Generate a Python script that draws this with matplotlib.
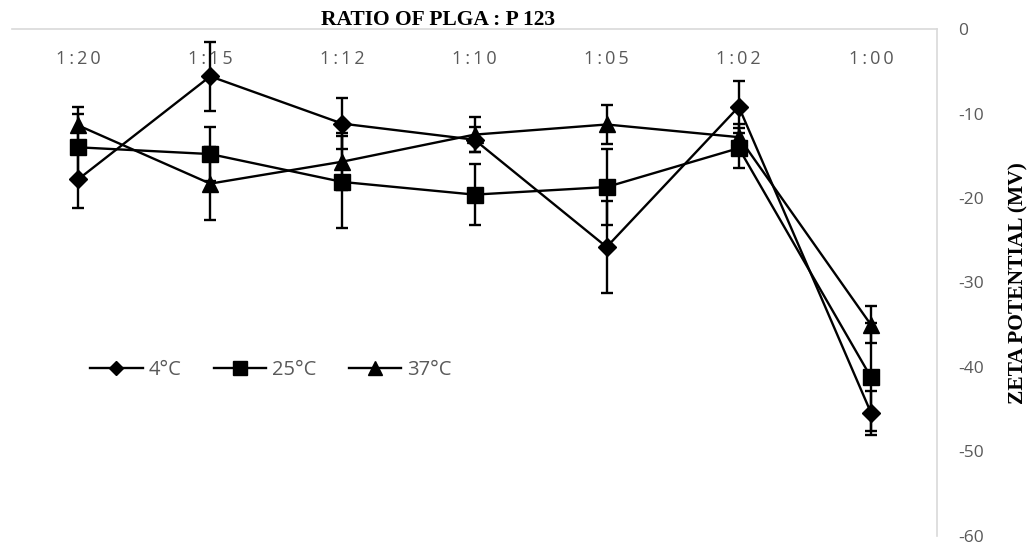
import numpy as np
import matplotlib
matplotlib.use("Agg")
import matplotlib.pyplot as plt
from matplotlib.lines import Line2D

# ratio of PLGA : P123 and zeta potential (mV) at three temperatures
ratios = ["1:20", "1:15", "1:12", "1:10", "1:05", "1:02", "1:00"]
zeta_4 = [-17.8, -5.6, -11.2, -13.1, -25.8, -9.2, -45.4]
err_4 = [3.4, 4.1, 3.0, 1.5, 5.4, 3.1, 2.6]
zeta_25 = [-14.0, -14.8, -18.1, -19.6, -18.7, -14.1, -41.2]
err_25 = [4.0, 3.2, 5.4, 3.6, 4.5, 2.4, 6.4]
zeta_37 = [-11.4, -18.3, -15.7, -12.5, -11.3, -12.8, -35.0]
err_37 = [2.2, 4.3, 3.4, 2.1, 2.3, 1.5, 2.2]

series = [
    ("4°C", zeta_4, err_4, "D", 9.5),
    ("25°C", zeta_25, err_25, "s", 12),
    ("37°C", zeta_37, err_37, "^", 12),
]

plt.rcParams["axes.unicode_minus"] = False
grey = "#595959"
sans = ["Open Sans", "DejaVu Sans"]
x = np.arange(len(ratios))

fig = plt.figure(figsize=(10.3, 5.44), dpi=100)
ax = fig.add_axes([12 / 1030, 1 - 536 / 544, 925 / 1030, 507 / 544])

handles = []
for name, vals, errs, mk, ms in series:
    ax.errorbar(x, vals, yerr=errs, color="black", lw=1.7, marker=mk, ms=ms,
                capsize=4.3, capthick=1.7, elinewidth=1.7)
    handles.append(Line2D([], [], color="black", lw=1.7, marker=mk,
                          ms=ms * 0.8, label=name))

ax.set_xlim(-0.5, len(ratios) - 0.5)
ax.set_ylim(-60, 0)
ax.set_yticks(np.arange(-60, 1, 10))

# category axis sits along the top, labels hang just under it (letter-spaced)
ax.set_xticks(x)
ax.set_xticklabels(["\u2009".join(r) for r in ratios])
ax.xaxis.tick_top()
ax.tick_params(axis="x", length=0, pad=-28, labelsize=13, labelcolor=grey)
for lbl in ax.get_xticklabels():
    lbl.set_fontfamily(sans)

ax.yaxis.tick_right()
ax.tick_params(axis="y", length=0, pad=15, labelsize=12.5, labelcolor=grey)
for lbl in ax.get_yticklabels():
    lbl.set_fontfamily(sans)

for side in ["left", "bottom"]:
    ax.spines[side].set_visible(False)
for side in ["top", "right"]:
    ax.spines[side].set_color("#d9d9d9")
    ax.spines[side].set_linewidth(1.2)

leg = ax.legend(handles=handles, loc="center", bbox_to_anchor=(0.28, 0.327),
                ncol=3, frameon=False, handlelength=2.6, columnspacing=1.6,
                handletextpad=0.3, prop={"family": sans, "size": 14.5})
for t in leg.get_texts():
    t.set_color(grey)

fig.text(438 / 1030, 1 - 30 / 544, "RATIO OF PLGA : P 123", ha="center",
         va="bottom", fontsize=15.5, fontweight="bold", family="Liberation Serif")
fig.text(1018 / 1030, 1 - 283 / 544, "ZETA POTENTIAL (MV)", rotation=90,
         ha="center", va="center", fontsize=15.5, fontweight="bold",
         family="Liberation Serif")

fig.savefig("out.png", dpi=100)
